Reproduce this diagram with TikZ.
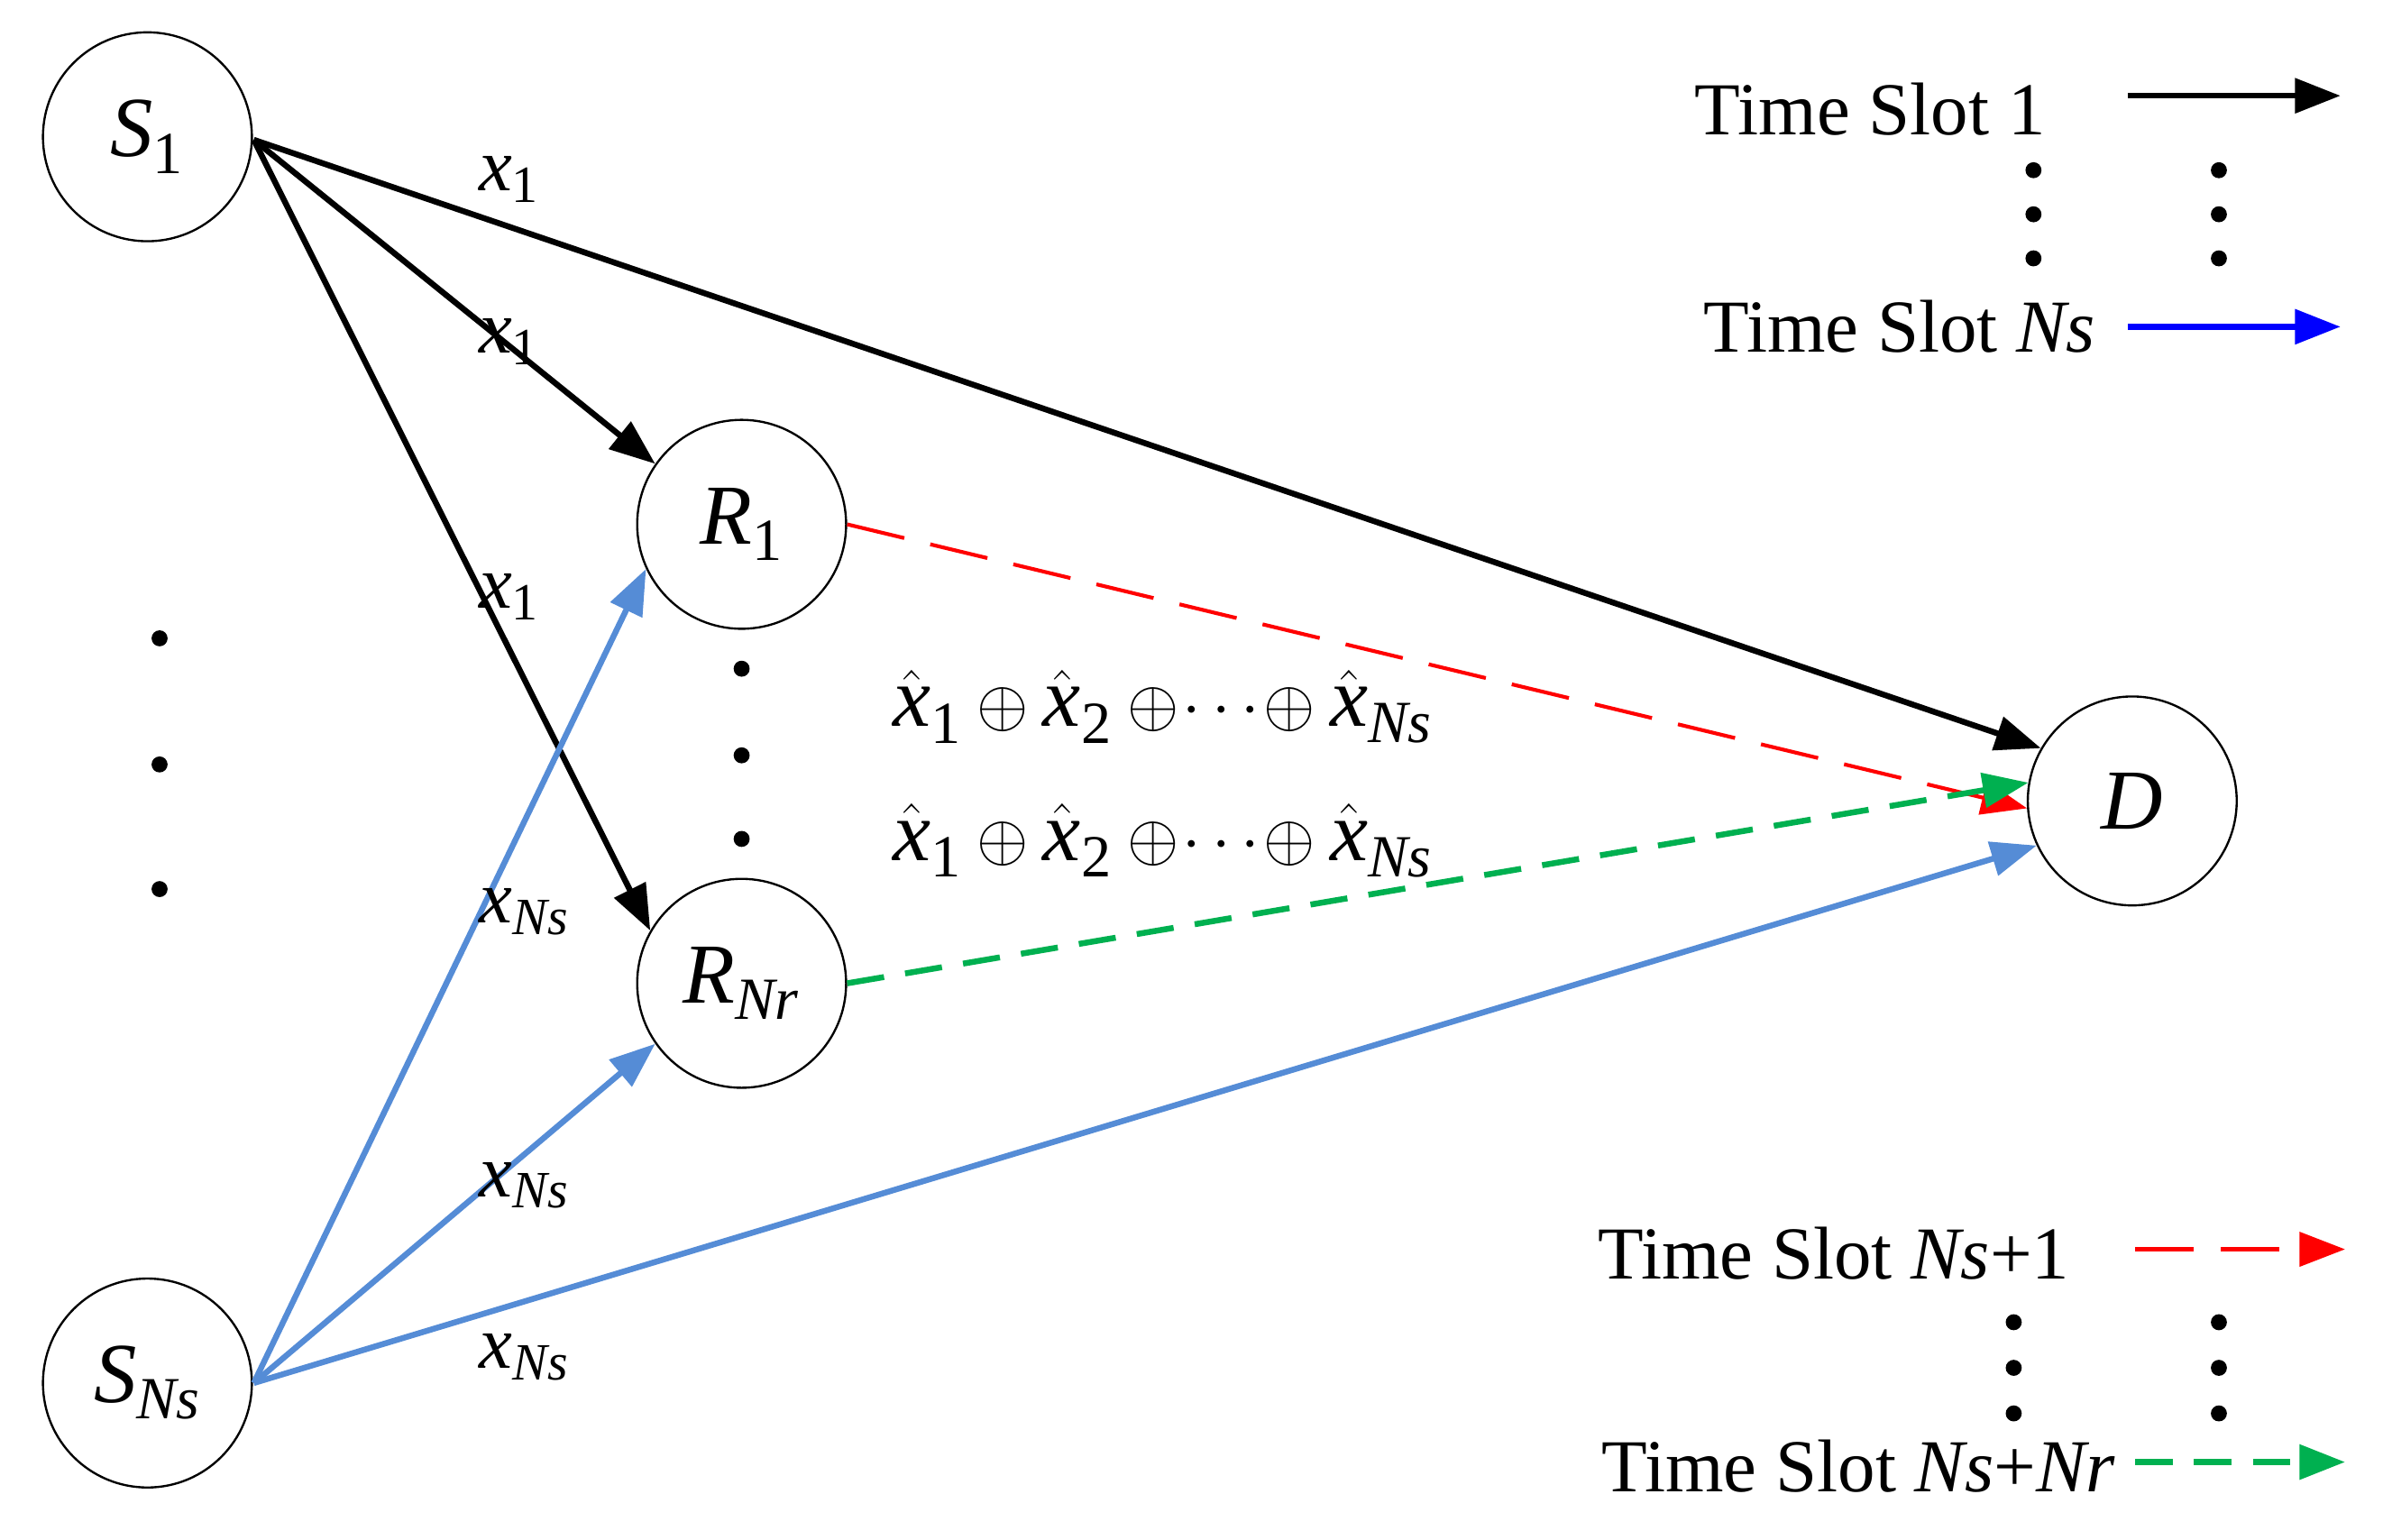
\documentclass[tikz,border=0pt]{standalone}
\usepackage{amsmath}
\usepackage{fontspec}
\setmainfont{Liberation Serif}
\usetikzlibrary{arrows.meta}
\newcommand\ix{\text{\textit{x}}}
\newcommand\sub[1]{_{\text{#1}}}
\begin{document}
\begin{tikzpicture}[x=0.02cm,y=-0.02cm,
  every node/.style={font=\fontsize{28}{32}\selectfont},
  nd/.style={circle,draw,line width=0.8pt,minimum size=2.75cm,inner sep=0pt,font=\fontsize{32}{36}\selectfont},
  tip/.style={-{Triangle[length=0.6cm,width=0.45cm]}},
  blk/.style={tip,line width=2.2pt,black},
  blu/.style={tip,line width=2.2pt,color={rgb,255:red,85;green,140;blue,214}},
  red/.style={tip,line width=1.4pt,color={rgb,255:red,255;green,0;blue,0},dash pattern=on 22pt off 10pt},
  grn/.style={tip,line width=2.2pt,color={rgb,255:red,0;green,176;blue,80},dash pattern=on 14pt off 8pt},
  dot/.style={circle,fill,inner sep=0pt,minimum size=6pt}]
\useasboundingbox (0,0) rectangle (1568,1013);
\node[nd] (S1) at (97,90) {$\text{\textit{S}}\sub{1}$};
\node[nd] (SN) at (97,910) {$\text{\textit{S}}\sub{\textit{Ns}}$};
\node[nd] (R1) at (488,345) {$\text{\textit{R}}\sub{1}$};
\node[nd] (RN) at (488,647) {$\text{\textit{R}}\sub{\textit{Nr}}$};
\node[nd] (D) at (1403,527) {\textit{D}};
\coordinate (s1) at (167,92);
\coordinate (sn) at (167,910);
\draw[blk] (s1) -- (D.150);
\draw[blk] (s1) -- (R1.145);
\draw[blk] (s1) -- (RN.150);
\draw[blu] (sn) -- (R1.205);
\draw[blu] (sn) -- (RN.215);
\draw[blu] (sn) -- (D.205);
\draw[red] (R1.east) -- (D.184);
\draw[grn] (RN.east) -- (D.170);
\node at (335,118) {$\ix\sub{1}$};
\node at (335,225) {$\ix\sub{1}$};
\node at (335,393) {$\ix\sub{1}$};
\node at (345,600) {$\ix\sub{\textit{Ns}}$};
\node at (345,780) {$\ix\sub{\textit{Ns}}$};
\node at (345,893) {$\ix\sub{\textit{Ns}}$};
\foreach \y in {420,503,585} \node[dot] at (105,\y) {};
\foreach \y in {440,497,552} \node[dot] at (488,\y) {};
\node[font=\fontsize{32}{36}\selectfont] (f1) at (765,465) {$\hat{\ix}\sub{1}\oplus\hat{\ix}\sub{2}\oplus\!\cdots\!\oplus\hat{\ix}\sub{\textit{Ns}}$};
\node[font=\fontsize{32}{36}\selectfont] (f2) at (765,553) {$\hat{\ix}\sub{1}\oplus\hat{\ix}\sub{2}\oplus\!\cdots\!\oplus\hat{\ix}\sub{\textit{Ns}}$};
% legend
\node[anchor=east] (l1) at (1352,72) {Time Slot 1};
\coordinate (a1) at (1400,63); \coordinate (b1) at (1540,63);
\draw[blk] (a1) -- (b1);
\node[anchor=east] (l2) at (1385,215) {Time Slot \textit{Ns}};
\coordinate (a2) at (1400,215); \coordinate (b2) at (1540,215);
\draw[tip,line width=2.2pt,blue] (a2) -- (b2);
\foreach \y in {112,141,170} {\node[dot] at (1338,\y) {}; \node[dot] at (1460,\y) {};}
\node[anchor=east] (l3) at (1368,825) {Time Slot \textit{Ns}+1};
\coordinate (a3) at (1405,822); \coordinate (b3) at (1543,822);
\draw[red] (a3) -- (b3);
\foreach \y in {870,900,930} {\node[dot] at (1325,\y) {}; \node[dot] at (1460,\y) {};}
\node[anchor=east] (l4) at (1398,965) {Time Slot \textit{Ns}+\textit{Nr}};
\coordinate (a4) at (1405,962); \coordinate (b4) at (1543,962);
\draw[grn] (a4) -- (b4);
\end{tikzpicture}
\end{document}
